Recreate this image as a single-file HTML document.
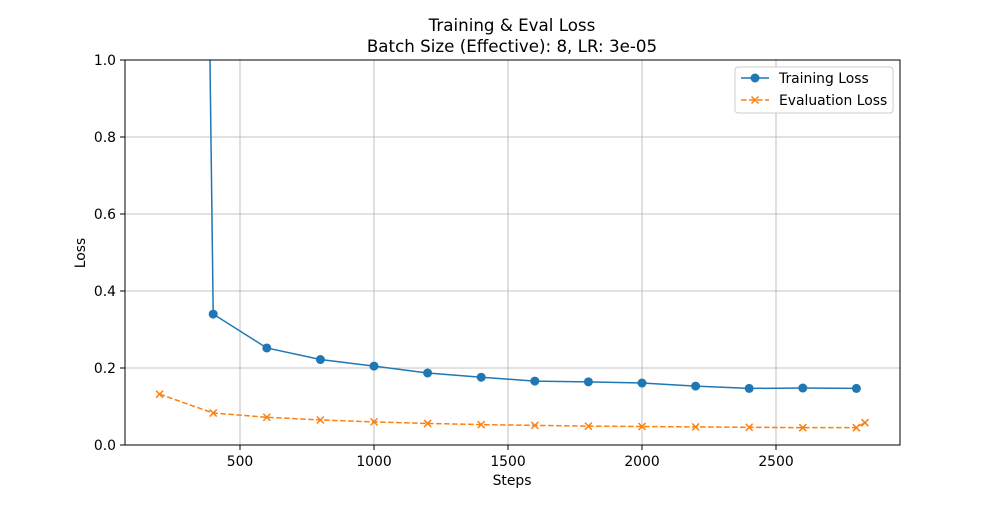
<!DOCTYPE html>
<html><head><meta charset="utf-8"><style>
body{margin:0;background:#fff}
svg{font-family:"DejaVu Sans","Liberation Sans",sans-serif}
</style></head><body>
<svg id="chart" width="1000" height="500">
<rect width="1000" height="500" fill="#fff"/>
<text x="512" y="31" text-anchor="middle" font-size="16.7">Training &amp; Eval Loss</text>
<text x="512" y="52" text-anchor="middle" font-size="16.7">Batch Size (Effective): 8, LR: 3e-05</text>
<defs><clipPath id="clip"><rect x="125" y="60" width="775" height="385"/></clipPath></defs>
<g id="grid"></g>
<g id="series" clip-path="url(#clip)"></g>
<rect x="125" y="60" width="775" height="385" fill="none" stroke="#000" stroke-width="1"/>
<g id="axes"></g>
<text x="512" y="485" text-anchor="middle" font-size="13.9">Steps</text>
<text transform="translate(85,253) rotate(-90)" text-anchor="middle" font-size="13.9">Loss</text>
<g>
<rect x="735" y="67" width="158" height="46" rx="3" fill="#fff" stroke="#ccc"/>
<g>
<line x1="741" y1="78" x2="769" y2="78" stroke="#1f77b4" stroke-width="1.5"/>
<circle cx="755" cy="78" r="4.5" fill="#1f77b4"/>
<text x="779" y="83" font-size="13.9">Training Loss</text></g>
<g>
<line x1="741" y1="100" x2="769" y2="100" stroke="#ff7f0e" stroke-width="1.5" stroke-dasharray="5.5,2.5"/>
<path d="M751.5 96.5L758.5 103.5M758.5 96.5L751.5 103.5" stroke="#ff7f0e" stroke-width="1.5"/>
<text x="779" y="105" font-size="13.9">Evaluation Loss</text></g>
</g>
</svg>
<script>
const trainSteps=[200,400,600,800,1000,1200,1400,1600,1800,2000,2200,2400,2600,2800];
const trainLoss=[11.3,0.34,0.252,0.222,0.205,0.187,0.176,0.166,0.164,0.161,0.153,0.147,0.148,0.147];
const evalSteps=[200,400,600,800,1000,1200,1400,1600,1800,2000,2200,2400,2600,2800,2832];
const evalLoss=[0.132,0.083,0.072,0.065,0.060,0.056,0.053,0.051,0.049,0.048,0.047,0.046,0.045,0.045,0.058];
const xTicks=[500,1000,1500,2000,2500];
const yTicks=[0,0.2,0.4,0.6,0.8,1.0];
const yTickLabels=["0.0","0.2","0.4","0.6","0.8","1.0"];
const NS="http://www.w3.org/2000/svg";
const X=s=>106+s*0.268;
const Y=v=>445-v*385;
function mk(tag,attrs,parent){const e=document.createElementNS(NS,tag);for(const k in attrs)e.setAttribute(k,attrs[k]);parent.appendChild(e);return e;}
const grid=document.getElementById('grid'),axes=document.getElementById('axes'),ser=document.getElementById('series');
xTicks.forEach(t=>{
 const g=mk('line',{x1:X(t),x2:X(t),y1:60,y2:445,stroke:'#b0b0b0','stroke-width':0.8},grid);
 
 
 mk('line',{x1:X(t),x2:X(t),y1:445,y2:450,stroke:'#000'},axes);
 const tx=mk('text',{x:X(t),y:466,'text-anchor':'middle','font-size':13.9},axes);tx.textContent=t;
 
 
});
yTicks.forEach((t,i)=>{
 const g=mk('line',{x1:125,x2:900,y1:Y(t),y2:Y(t),stroke:'#b0b0b0','stroke-width':0.8},grid);
 
 
 mk('line',{x1:120,x2:125,y1:Y(t),y2:Y(t),stroke:'#000'},axes);
 const tx=mk('text',{x:116,y:Y(t)+5,'text-anchor':'end','font-size':13.9},axes);tx.textContent=yTickLabels[i];
 
 
});
const tl=mk('polyline',{points:trainSteps.map((s,i)=>X(s)+','+Y(trainLoss[i])).join(' '),fill:'none',stroke:'#1f77b4','stroke-width':1.5},ser);


trainSteps.forEach((s,i)=>{const c=mk('circle',{cx:X(s),cy:Y(trainLoss[i]),r:4.5,fill:'#1f77b4'},ser);
 
 });
const el=mk('polyline',{points:evalSteps.map((s,i)=>X(s)+','+Y(evalLoss[i])).join(' '),fill:'none',stroke:'#ff7f0e','stroke-width':1.5,'stroke-dasharray':'5.5,2.5'},ser);


evalSteps.forEach((s,i)=>{const x=X(s),y=Y(evalLoss[i]);
 const p=mk('path',{d:`M${x-3.5} ${y-3.5}L${x+3.5} ${y+3.5}M${x+3.5} ${y-3.5}L${x-3.5} ${y+3.5}`,stroke:'#ff7f0e','stroke-width':1.5},ser);
 
 });
</script>
</body></html>
